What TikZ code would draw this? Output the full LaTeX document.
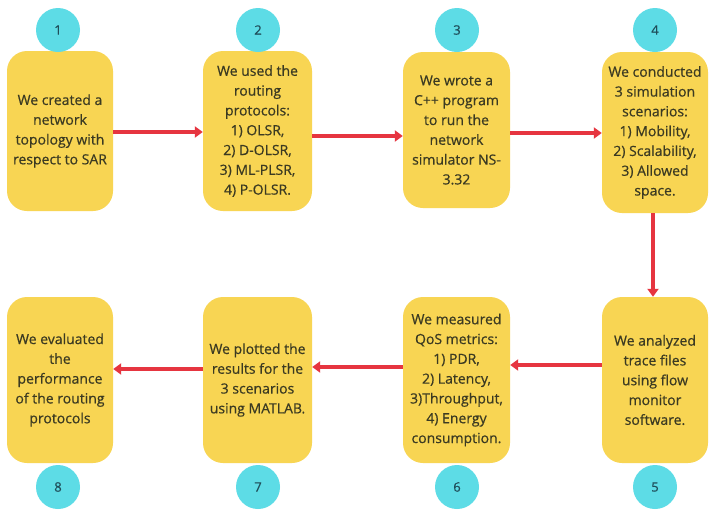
\documentclass[tikz,border=0pt]{standalone}
\usepackage{fontspec}
\setmainfont{Open Sans}
\newfontfamily\boxfont{Open Sans}[FakeBold=0.6]
\usetikzlibrary{arrows.meta}
\definecolor{boxyellow}{HTML}{F8D553}
\definecolor{circteal}{HTML}{5DDCE6}
\definecolor{txtdark}{HTML}{3B3A22}
\definecolor{numdark}{HTML}{1F4E5A}
\definecolor{arrred}{HTML}{E63540}
\tikzset{
  stepbox/.style={fill=boxyellow, rounded corners=20pt, minimum width=106pt, minimum height=160pt,
    align=center, font=\boxfont\fontsize{14}{19.8}\selectfont, text=txtdark, inner sep=0pt},
  numcirc/.style={circle, fill=circteal, minimum size=44pt, inner sep=0pt,
    font=\boxfont\fontsize{13}{15}\selectfont, text=numdark},
  flow/.style={draw=arrred, line width=3.2pt, -{Triangle[length=8pt,width=11pt]}}
}
\begin{document}
\begin{tikzpicture}[x=1pt,y=-1pt]
\useasboundingbox[fill=white] (0,0) rectangle (720,515);
% top row
\node[stepbox] (b1) at (60,131) {We created a\\network\\topology with\\respect to SAR};
\node[stepbox, minimum width=109pt] (b2) at (257.5,131) {We used the\\routing\\protocols:\\1) OLSR,\\2) D-OLSR,\\3) ML-PLSR,\\4) P-OLSR.};
\node[stepbox, minimum width=107pt, minimum height=156pt] (b3) at (456.5,130) {We wrote a\\C++ program\\to run the\\network\\simulator NS-\\3.32};
\node[stepbox, minimum height=161pt] (b4) at (655,132.5) {We conducted\\3 simulation\\scenarios:\\1) Mobility,\\2) Scalability,\\3) Allowed\\space.};
% bottom row
\node[stepbox, minimum height=166pt] (b5) at (655,380) {We analyzed\\trace files\\using flow\\monitor\\software.};
\node[stepbox, minimum width=107pt, minimum height=166pt] (b6) at (456.5,380) {We measured\\QoS metrics:\\1) PDR,\\2) Latency,\\3)Throughput,\\4) Energy\\consumption.};
\node[stepbox, minimum width=109pt, minimum height=166pt] (b7) at (257.5,380) {We plotted the\\results for the\\3 scenarios\\using MATLAB.};
\node[stepbox, minimum height=166pt] (b8) at (60,380) {We evaluated\\the\\performance\\of the routing\\protocols};
% circles
\node[numcirc] (c1) at (58,30) {1};
\node[numcirc] (c2) at (258,30) {2};
\node[numcirc] (c3) at (457,30) {3};
\node[numcirc] (c4) at (655,30) {4};
\node[numcirc] (c5) at (655,487) {5};
\node[numcirc] (c6) at (457,487) {6};
\node[numcirc] (c7) at (258,487) {7};
\node[numcirc] (c8) at (58,487) {8};
% connectors
\draw[flow] (b1.east |- 0,132) -- (b2.west |- 0,132);
\draw[flow] (b2.east |- 0,136) -- (b3.west |- 0,136);
\draw[flow] (b3.east |- 0,133) -- (b4.west |- 0,133);
\draw[flow] (b4.south -| 653,0) -- (b5.north -| 653,0);
\draw[flow] (b5.west |- 0,365) -- (b6.east |- 0,365);
\draw[flow] (b6.west |- 0,367) -- (b7.east |- 0,367);
\draw[flow] (b7.west |- 0,369) -- (b8.east |- 0,369);
\end{tikzpicture}
\end{document}
